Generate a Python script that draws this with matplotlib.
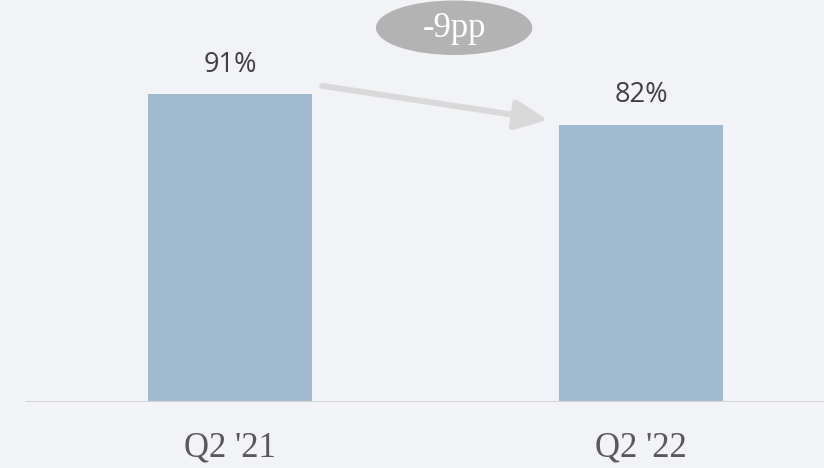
import matplotlib.pyplot as plt
from matplotlib.patches import Ellipse

categories = ["Q2 '21", "Q2 '22"]
values = [91, 82]
change_label = "-9pp"

bg = '#f2f3f7'
bar_color = '#a0bbd0'
width = 0.4

fig = plt.figure(figsize=(8.24, 4.68), dpi=100, facecolor=bg)
ax = fig.add_axes([0, 66 / 468, 1, 402 / 468])
ax.set_facecolor(bg)

x = range(len(categories))
bars = ax.bar(x, values, width, color=bar_color, zorder=2)

ax.set_xlim(-0.56, 1.445)
ax.set_ylim(0, 118.9)

# baseline
ax.hlines(0, -0.5, 1.445, color='#d6d6d6', lw=2.2, zorder=3)

for s in ax.spines.values():
    s.set_visible(False)
ax.set_yticks([])
ax.set_xticks(list(x))
ax.set_xticklabels(categories, fontsize=25, family='Liberation Serif', color='#595959')
ax.tick_params(axis='x', length=0, pad=21)

# value labels
for rect, v in zip(bars, values):
    ax.annotate(f'{v}%', xy=(rect.get_x() + rect.get_width() / 2, v),
                xytext=(0, 11), textcoords='offset points',
                ha='center', va='bottom', fontsize=19.5,
                family='Open Sans', color='#404040')

# change arrow
ax.annotate('', xy=(1 - 0.226, values[1] + 1.4), xytext=(0.224, values[0] + 2.5),
            arrowprops=dict(arrowstyle='-|>,head_length=20,head_width=9',
                            mutation_scale=1, lw=4.3, color='#d9d9d9',
                            shrinkA=0, shrinkB=0), zorder=1)

# change bubble
ax.add_patch(Ellipse((0.545, 110.7), 0.377, 15.7, color='#b3b3b3',
                     zorder=4, clip_on=False))
ax.text(0.545, 110.4, change_label, ha='center', va='center', fontsize=25,
        family='Liberation Serif', color='white', zorder=5)

fig.savefig('out.png', dpi=100, facecolor=bg)
